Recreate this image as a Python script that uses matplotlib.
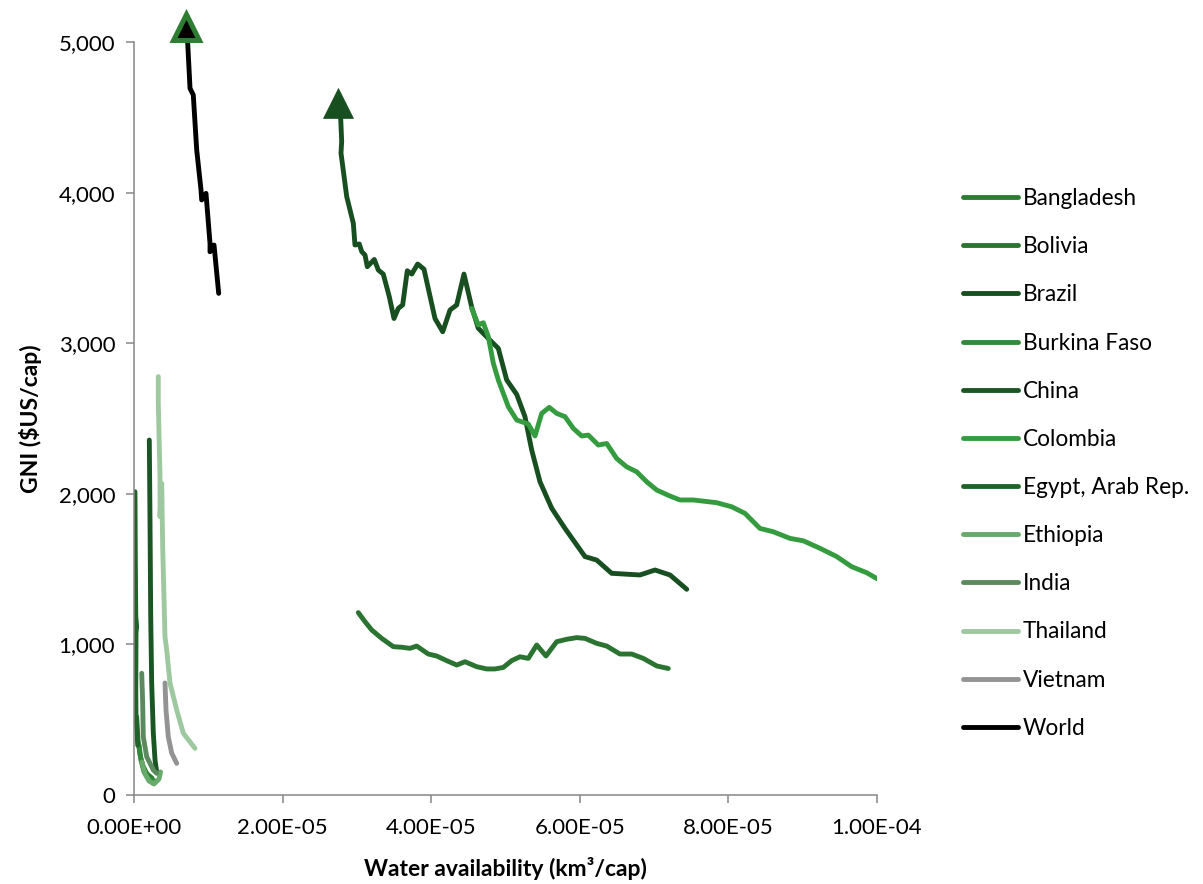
import matplotlib
matplotlib.use("Agg")
import matplotlib.pyplot as plt
from matplotlib.lines import Line2D
from matplotlib.ticker import FuncFormatter
import numpy as np

plt.rcParams['font.family'] = ['Lato', 'DejaVu Sans']

# ---- data: water availability (1e-6 km3/cap) and GNI ($US/cap) ----
countries = ["Bangladesh", "Bolivia", "Brazil", "Burkina Faso", "China", "Colombia",
             "Egypt, Arab Rep.", "Ethiopia", "India", "Thailand", "Vietnam", "World"]

bangladesh_x = [0.36, 0.54, 0.81, 1.21, 1.75, 2.42]
bangladesh_y = [520, 365, 266, 193, 140, 113]

bolivia_x = [30.19, 31.09, 31.99, 33.34, 34.90, 36.03, 37.15, 38.05, 39.61, 40.74, 42.09,
             43.43, 44.55, 46.12, 47.47, 48.59, 49.70, 50.83, 51.95, 53.07, 54.20, 55.45,
             56.89, 58.24, 59.58, 60.70, 62.27, 63.62, 65.41, 66.99, 68.55, 70.35, 71.91]
bolivia_y = [1211, 1151, 1096, 1040, 985, 981, 974, 989, 936, 923, 892, 863, 885, 852, 837,
             837, 847, 892, 918, 907, 996, 923, 1018, 1034, 1045, 1040, 1007, 989, 936, 936,
             907, 857, 840]

brazil_x = [27.42, 27.82, 27.95, 27.86, 28.63, 29.52, 29.74, 30.32, 30.65, 31.09, 31.40,
            32.34, 32.88, 33.55, 34.36, 34.99, 35.57, 36.16, 36.78, 37.38, 38.18, 39.03,
            40.51, 41.55, 42.53, 43.43, 44.41, 45.45, 46.34, 47.91, 49.03, 50.16, 51.51,
            52.62, 53.53, 54.64, 56.22, 58.01, 60.70, 62.27, 64.29, 68.10, 70.12, 72.14, 74.39]
brazil_y = [4595, 4493, 4340, 4262, 3973, 3796, 3652, 3659, 3608, 3586, 3508, 3556, 3486,
            3459, 3309, 3164, 3231, 3254, 3481, 3459, 3526, 3491, 3164, 3076, 3220, 3254,
            3459, 3240, 3099, 3020, 2966, 2756, 2660, 2512, 2290, 2080, 1904, 1770, 1583,
            1560, 1472, 1461, 1494, 1461, 1366]

burkina_x = [0.67, 0.94, 1.35, 2.02, 2.83]
burkina_y = [332, 232, 153, 106, 93]

china_x = [2.06, 2.15, 2.25, 2.38, 2.60, 2.83, 3.05]
china_y = [2357, 1848, 1184, 742, 411, 232, 155]

colombia_x = [45.45, 46.34, 47.01, 47.69, 48.36, 49.03, 50.38, 51.51, 53.07, 53.97, 54.87,
              55.89, 56.89, 58.01, 59.13, 60.26, 61.14, 62.49, 63.62, 64.97, 66.31, 67.66,
              69.00, 70.35, 72.14, 73.49, 75.28, 78.42, 80.44, 82.23, 84.25, 86.04, 88.29,
              90.08, 92.33, 94.58, 96.59, 98.61, 100.31]
colombia_y = [3231, 3121, 3136, 3043, 2867, 2756, 2578, 2490, 2463, 2384, 2534, 2574, 2534,
              2512, 2434, 2384, 2390, 2324, 2334, 2234, 2179, 2146, 2080, 2025, 1985, 1959,
              1959, 1941, 1914, 1870, 1770, 1748, 1704, 1688, 1638, 1583, 1516, 1476, 1428]

egypt_x = [0.13, 0.18, 0.24, 0.36, 0.27, 0.24, 0.27, 0.36, 0.50]
egypt_y = [2014, 1560, 1184, 1118, 1076, 700, 520, 453, 330]

ethiopia_x = [1.08, 1.48, 2.02, 2.69, 3.36, 3.57]
ethiopia_y = [219, 140, 93, 73, 106, 153]

india_x = [1.04, 1.17, 1.25, 1.71, 2.60, 3.05]
india_y = [808, 609, 387, 254, 166, 144]

thailand_x = [3.27, 3.27, 3.50, 3.50, 3.73, 3.86, 4.17, 4.40, 4.85, 5.75, 6.64, 8.21]
thailand_y = [2778, 2601, 2114, 1848, 2069, 1649, 1051, 963, 742, 564, 410, 310]

vietnam_x = [4.17, 4.31, 4.62, 5.07, 5.75]
vietnam_y = [744, 564, 385, 279, 210]

world_x = [7.00, 7.23, 7.54, 7.98, 8.44, 9.02, 9.11, 9.69, 10.23, 10.23, 10.77, 11.40]
world_y = [5100, 4990, 4692, 4648, 4283, 4017, 3951, 3995, 3663, 3607, 3652, 3331]

x_ticks = [0, 2e-5, 4e-5, 6e-5, 8e-5, 1e-4]
x_tick_labels = ["0.00E+00", "2.00E-05", "4.00E-05", "6.00E-05", "8.00E-05", "1.00E-04"]
y_ticks = [0, 1000, 2000, 3000, 4000, 5000]

colors = ["#2b7d31", "#2a7330", "#174f20", "#33893a", "#1a5524", "#359b3f",
          "#1e6328", "#67aa6b", "#5b8a5f", "#9ec89f", "#939393", "#000000"]

series_x = [bangladesh_x, bolivia_x, brazil_x, burkina_x, china_x, colombia_x,
            egypt_x, ethiopia_x, india_x, thailand_x, vietnam_x, world_x]
series_y = [bangladesh_y, bolivia_y, brazil_y, burkina_y, china_y, colombia_y,
            egypt_y, ethiopia_y, india_y, thailand_y, vietnam_y, world_y]

LW = 3.5

fig = plt.figure(figsize=(12.03, 8.84), dpi=100)
ax = fig.add_axes([134 / 1203, 89 / 884, 743 / 1203, 753 / 884])

handles = []
for xs, ys, col in zip(series_x, series_y, colors):
    xv = np.array(xs) * 1e-6
    ax.plot(xv, ys, color=col, lw=LW, solid_capstyle='round', solid_joinstyle='round',
            clip_on=True)
    handles.append(Line2D([], [], color=col, lw=LW, solid_capstyle='round'))

# end-point arrows
ax.plot(np.array(brazil_x[:1]) * 1e-6, brazil_y[:1], marker='^', ms=21, color="#174f20",
        mec="#174f20", mew=0.5, linestyle='none', clip_on=False, zorder=5)
ax.plot(np.array(world_x[:1]) * 1e-6, world_y[:1], marker='^', ms=19, mfc="#000000",
        mec="#2e7d32", mew=3.6, linestyle='none', clip_on=False, zorder=6)

ax.set_xlim(0, 1e-4)
ax.set_ylim(0, 5000)
ax.set_xticks(x_ticks)
ax.set_xticklabels(x_tick_labels)
ax.set_yticks(y_ticks)
ax.yaxis.set_major_formatter(FuncFormatter(lambda v, p: f"{int(v):,}"))

for s in ['top', 'right']:
    ax.spines[s].set_visible(False)
for s in ['left', 'bottom']:
    ax.spines[s].set_color('#868686')
    ax.spines[s].set_linewidth(1.1)
ax.tick_params(axis='both', direction='out', length=5.5, width=1.1, color='#868686',
               labelsize=16, labelcolor='#000000')
ax.tick_params(axis='x', pad=11)
ax.tick_params(axis='y', pad=8)

ax.set_xlabel("Water availability (km\u00b3/cap)", fontsize=16.5, fontweight='bold',
              labelpad=14)
ax.set_ylabel("GNI ($US/cap)", fontsize=16.5, fontweight='bold', labelpad=12)

fig.legend(handles, countries, loc='upper left', bbox_to_anchor=(963 / 1203, 1 - 188 / 884),
           frameon=False, fontsize=16.3, handlelength=2.45, handletextpad=0.18,
           labelspacing=1.2, borderaxespad=0, borderpad=0)

fig.savefig("out.png", dpi=100)
